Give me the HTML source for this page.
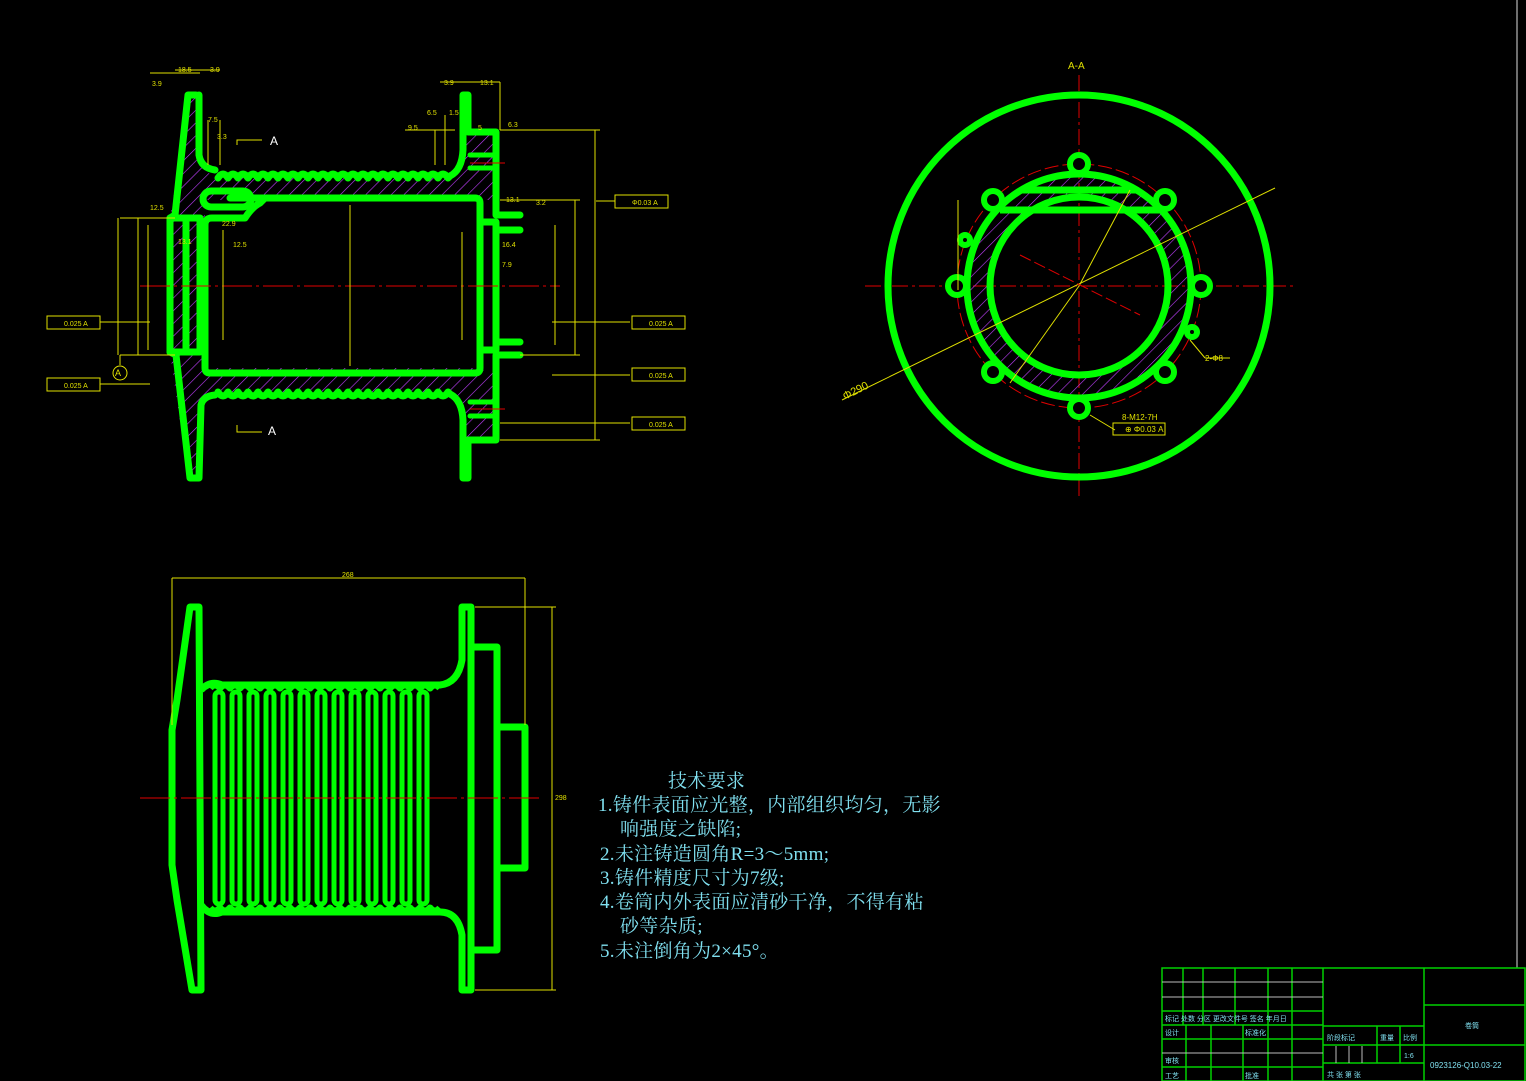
<!DOCTYPE html>
<html><head><meta charset="utf-8"><style>
html,body{margin:0;padding:0;background:#000;}
svg{display:block}
text{font-family:"Liberation Sans",sans-serif}
</style></head><body>
<svg width="1526" height="1081" viewBox="0 0 1526 1081" xmlns="http://www.w3.org/2000/svg">
<defs>
<pattern id="h" width="9" height="9" patternUnits="userSpaceOnUse" patternTransform="rotate(45)">
<line x1="0" y1="0" x2="0" y2="9" stroke="#c040ff" stroke-width="1.2"/>
</pattern>
</defs>
<rect width="1526" height="1081" fill="#000"/>
<line x1="1517" y1="0" x2="1517" y2="968" stroke="#ddd" stroke-width="1"/>

<g>
<path d="M190,95 L198,95 L198,160 Q200,172 215,175 L450,175 Q460,170 462,150 L462,95 L470,95 L470,130 L497,130 L497,200 L478,200 L478,370 L497,370 L497,440 L470,440 L470,478 L462,478 L462,420 Q460,400 450,395 L215,395 Q202,398 200,410 L198,478 L188,478 L170,352 L170,218 Z M205,200 L205,368 L478,368 L478,200 Z" fill="url(#h)" fill-rule="evenodd"/>
<g fill="none" stroke="#00ff00" stroke-width="7" stroke-linejoin="round" stroke-linecap="round">
<path d="M196,95 L188,95 L175,215 L170,218 L170,352 L176,355 L190,478 L199,478 L201,405 Q203,396 215,395"/>
<path d="M199,95 L199,155 Q201,168 215,170"/>
<path d="M218,178 q5,-8 10,0 q5,-8 10,0 q5,-8 10,0 q5,-8 10,0 q5,-8 10,0 q5,-8 10,0 q5,-8 10,0 q5,-8 10,0 q5,-8 10,0 q5,-8 10,0 q5,-8 10,0 q5,-8 10,0 q5,-8 10,0 q5,-8 10,0 q5,-8 10,0 q5,-8 10,0 q5,-8 10,0 q5,-8 10,0 q5,-8 10,0 q5,-8 10,0 q5,-8 10,0 q5,-8 10,0 q5,-8 10,0 L450,176 Q462,170 463,150 L463,95 L468,95 L468,132 L496,132 L496,215 L520,215"/>
<path d="M218,392 q5,8 10,0 q5,8 10,0 q5,8 10,0 q5,8 10,0 q5,8 10,0 q5,8 10,0 q5,8 10,0 q5,8 10,0 q5,8 10,0 q5,8 10,0 q5,8 10,0 q5,8 10,0 q5,8 10,0 q5,8 10,0 q5,8 10,0 q5,8 10,0 q5,8 10,0 q5,8 10,0 q5,8 10,0 q5,8 10,0 q5,8 10,0 q5,8 10,0 q5,8 10,0 L450,394 Q462,400 463,420 L463,478 L468,478 L468,440 L496,440 L496,355 L520,355"/>
<path d="M230,198 L475,198 Q480,198 480,203 L480,368 Q480,373 475,373 L210,373 Q205,373 205,368 L205,225 Q205,218 212,218 L245,218 Q252,207 260,203 L265,198"/>
<path d="M170,218 L200,218 L200,352 L170,352"/>
<path d="M186,222 L186,348"/>
<path d="M480,222 L496,222 L496,350 L480,350"/>
<path d="M496,230 L520,230 M496,342 L520,342"/>
<rect x="203" y="191" width="48" height="16" rx="8"/>
<path d="M470,155 L496,155 M470,168 L496,168 M470,402 L496,402 M470,416 L496,416" stroke-width="5"/>
</g>
<line x1="140" y1="286" x2="560" y2="286" stroke="#e00000" stroke-width="1" stroke-dasharray="30,4,3,4"/>
<line x1="470" y1="163" x2="505" y2="163" stroke="#e00000" stroke-width="1"/>
<line x1="470" y1="409" x2="505" y2="409" stroke="#e00000" stroke-width="1"/>
<g stroke="#e0e000" stroke-width="1" fill="none">
<line x1="350" y1="205" x2="350" y2="366"/>
<line x1="223" y1="230" x2="223" y2="340"/>
<line x1="462" y1="232" x2="462" y2="340"/>
<line x1="148" y1="225" x2="148" y2="350"/><line x1="138" y1="218" x2="138" y2="355"/>
<line x1="120" y1="218" x2="175" y2="218"/><line x1="120" y1="355" x2="175" y2="355"/>
<line x1="118" y1="218" x2="118" y2="355"/>
<line x1="555" y1="225" x2="555" y2="345"/><line x1="575" y1="200" x2="575" y2="355"/><line x1="595" y1="130" x2="595" y2="440"/>
<line x1="500" y1="130" x2="600" y2="130"/><line x1="500" y1="440" x2="600" y2="440"/>
<line x1="500" y1="200" x2="580" y2="200"/><line x1="520" y1="355" x2="580" y2="355"/>
<line x1="150" y1="73" x2="200" y2="73"/><line x1="175" y1="70" x2="220" y2="70"/>
<line x1="440" y1="82" x2="500" y2="82"/><line x1="500" y1="82" x2="500" y2="130"/>
<line x1="405" y1="130" x2="455" y2="130"/><line x1="435" y1="130" x2="435" y2="165"/><line x1="445" y1="115" x2="445" y2="165"/>
<line x1="208" y1="120" x2="208" y2="165"/><line x1="220" y1="120" x2="220" y2="165"/>
<line x1="596" y1="201" x2="615" y2="201"/>
<line x1="552" y1="322" x2="630" y2="322"/><line x1="552" y1="375" x2="630" y2="375"/><line x1="500" y1="423" x2="630" y2="423"/>
<line x1="100" y1="322" x2="150" y2="322"/><line x1="100" y1="384" x2="150" y2="384"/>
<line x1="120" y1="355" x2="120" y2="365"/>
</g>
<g fill="none" stroke="#e0e000" stroke-width="1">
<rect x="47" y="316" width="53" height="13"/><rect x="47" y="378" width="53" height="13"/>
<rect x="632" y="316" width="53" height="13"/><rect x="632" y="368" width="53" height="13"/><rect x="632" y="417" width="53" height="13"/>
<rect x="615" y="195" width="53" height="13"/>
<circle cx="120" cy="373" r="7"/>
<path d="M237,145 L237,140 L262,140 M237,425 L237,432 L262,432"/>
</g>
<g fill="#e0e000" font-size="7">
<text x="64" y="326">0.025 A</text><text x="64" y="388">0.025 A</text>
<text x="649" y="326">0.025 A</text><text x="649" y="378">0.025 A</text><text x="649" y="427">0.025 A</text>
<text x="632" y="205">Φ0.03 A</text>
<text x="152" y="86">3.9</text><text x="178" y="72">18.5</text><text x="210" y="72">3.9</text>
<text x="444" y="85">3.9</text><text x="480" y="85">13.1</text>
<text x="427" y="115">6.5</text><text x="449" y="115">1.5</text><text x="408" y="130">9.5</text><text x="478" y="130">5</text><text x="508" y="127">6.3</text>
<text x="208" y="122">7.5</text><text x="217" y="139">3.3</text><text x="150" y="210">12.5</text><text x="506" y="202">13.1</text><text x="536" y="205">3.2</text>
<text x="178" y="244">13.1</text><text x="502" y="247">16.4</text><text x="502" y="267">7.9</text><text x="222" y="226">22.9</text><text x="233" y="247">12.5</text>
<text x="115" y="376" font-size="9">A</text>
</g>
<g fill="#fff" font-size="12"><text x="270" y="145">A</text><text x="268" y="435">A</text></g>
</g>

<g>
<text x="1068" y="69" fill="#e0e000" font-size="10">A-A</text>
<line x1="865" y1="286" x2="1295" y2="286" stroke="#e00000" stroke-width="1" stroke-dasharray="16,4,3,4"/>
<line x1="1079" y1="75" x2="1079" y2="500" stroke="#e00000" stroke-width="1" stroke-dasharray="16,4,3,4"/>
<circle cx="1079" cy="286" r="122" fill="none" stroke="#e00000" stroke-width="1" stroke-dasharray="14,4"/>
<path d="M1079,174 A112,112 0 1 1 1078.9,174 Z M1079,197 A89,89 0 1 0 1079.1,197 Z" fill="url(#h)" fill-rule="evenodd"/>
<g fill="none" stroke="#00ff00" stroke-width="7">
<circle cx="1079" cy="286" r="191"/>
<circle cx="1079" cy="286" r="112"/>
<circle cx="1079" cy="286" r="89"/>
<path d="M1000,210 L1160,210" />
<path d="M1022,190 L1137,190"/>
</g>
<g fill="#000" stroke="#00ff00" stroke-width="6">
<circle cx="1079" cy="164" r="9"/><circle cx="1165" cy="200" r="9"/><circle cx="1201" cy="286" r="9"/><circle cx="1165" cy="372" r="9"/>
<circle cx="1079" cy="408" r="9"/><circle cx="993" cy="372" r="9"/><circle cx="957" cy="286" r="9"/><circle cx="993" cy="200" r="9"/>
<circle cx="965" cy="240" r="5"/><circle cx="1192" cy="332" r="5"/>
</g>
<g stroke="#e0e000" stroke-width="1" fill="none">
<line x1="842" y1="400" x2="1275" y2="188"/>
<line x1="1079" y1="286" x2="1130" y2="190"/><line x1="1079" y1="286" x2="1010" y2="383"/>
<line x1="1190" y1="340" x2="1205" y2="358"/><line x1="1205" y1="358" x2="1230" y2="358"/>
<line x1="1090" y1="415" x2="1115" y2="430"/>
<rect x="1113" y="423" width="52" height="12"/>
<line x1="958" y1="200" x2="958" y2="290"/>
</g>
<line x1="1020" y1="255" x2="1140" y2="315" stroke="#e00000" stroke-width="1" stroke-dasharray="12,4"/>
<g fill="#e0e000" font-size="8">
<text x="1205" y="361">2-Φ8</text><text x="1122" y="420">8-M12-7H</text><text x="1125" y="432">⊕ Φ0.03 A</text>
<text x="845" y="400" font-size="11" transform="rotate(-27 845 400)">Φ290</text>
</g>
</g>

<g fill="none" stroke="#00ff00" stroke-width="7" stroke-linejoin="round">
<path d="M190,607 L199,607 L201,990 L192,990 L177,900 L172,865 L172,730 L177,700 Z"/>
<path d="M201,690 Q210,680 222,685 L440,685 Q458,683 462,660 L462,607 L471,607 L471,990 L462,990 L462,935 Q458,912 440,912 L222,912 Q210,917 201,905"/>
<path d="M471,647 L497,647 L497,950 L471,950"/>
<path d="M497,727 L525,727 L525,868 L497,868"/>
<path d="M172,730 L172,865"/>
<path d="M210,688 q5,-6 10,0 q5,-6 10,0 q5,-6 10,0 q5,-6 10,0 q5,-6 10,0 q5,-6 10,0 q5,-6 10,0 q5,-6 10,0 q5,-6 10,0 q5,-6 10,0 q5,-6 10,0 q5,-6 10,0 q5,-6 10,0 q5,-6 10,0 q5,-6 10,0 q5,-6 10,0 q5,-6 10,0 q5,-6 10,0 q5,-6 10,0 q5,-6 10,0 q5,-6 10,0 q5,-6 10,0 q5,-6 10,0"/>
<path d="M210,908 q5,6 10,0 q5,6 10,0 q5,6 10,0 q5,6 10,0 q5,6 10,0 q5,6 10,0 q5,6 10,0 q5,6 10,0 q5,6 10,0 q5,6 10,0 q5,6 10,0 q5,6 10,0 q5,6 10,0 q5,6 10,0 q5,6 10,0 q5,6 10,0 q5,6 10,0 q5,6 10,0 q5,6 10,0 q5,6 10,0 q5,6 10,0 q5,6 10,0 q5,6 10,0"/>
<g stroke-width="5">
<rect x="215" y="692" width="8" height="212" rx="4"/><rect x="232" y="692" width="8" height="212" rx="4"/><rect x="249" y="692" width="8" height="212" rx="4"/><rect x="266" y="692" width="8" height="212" rx="4"/><rect x="283" y="692" width="8" height="212" rx="4"/><rect x="300" y="692" width="8" height="212" rx="4"/><rect x="317" y="692" width="8" height="212" rx="4"/><rect x="334" y="692" width="8" height="212" rx="4"/><rect x="351" y="692" width="8" height="212" rx="4"/><rect x="368" y="692" width="8" height="212" rx="4"/><rect x="385" y="692" width="8" height="212" rx="4"/><rect x="402" y="692" width="8" height="212" rx="4"/><rect x="419" y="692" width="8" height="212" rx="4"/>
</g>
</g>
<line x1="140" y1="798" x2="540" y2="798" stroke="#e00000" stroke-width="1" stroke-dasharray="30,4,3,4"/>
<g stroke="#e0e000" stroke-width="1" fill="none">
<line x1="172" y1="578" x2="525" y2="578"/><line x1="172" y1="578" x2="172" y2="725"/><line x1="525" y1="578" x2="525" y2="725"/>
<line x1="552" y1="607" x2="552" y2="990"/><line x1="475" y1="607" x2="556" y2="607"/><line x1="475" y1="990" x2="556" y2="990"/>
</g>
<text x="342" y="577" fill="#e0e000" font-size="7">268</text>
<text x="555" y="800" fill="#e0e000" font-size="7">298</text>

<g fill="#80e0f0" font-size="19" letter-spacing="0.3">
<text x="668" y="787" style="font-family:'Liberation Serif','Noto Serif CJK SC',serif">技术要求</text>
<text x="598" y="811" style="font-family:'Liberation Serif','Noto Serif CJK SC',serif">1.铸件表面应光整，内部组织均匀，无影</text>
<text x="620" y="835" style="font-family:'Liberation Serif','Noto Serif CJK SC',serif">响强度之缺陷;</text>
<text x="600" y="860" style="font-family:'Liberation Serif','Noto Serif CJK SC',serif">2.未注铸造圆角R=3～5mm;</text>
<text x="600" y="884" style="font-family:'Liberation Serif','Noto Serif CJK SC',serif">3.铸件精度尺寸为7级;</text>
<text x="600" y="908" style="font-family:'Liberation Serif','Noto Serif CJK SC',serif">4.卷筒内外表面应清砂干净，不得有粘</text>
<text x="620" y="932" style="font-family:'Liberation Serif','Noto Serif CJK SC',serif">砂等杂质;</text>
<text x="600" y="957" style="font-family:'Liberation Serif','Noto Serif CJK SC',serif">5.未注倒角为2×45°。</text>
</g>

<g stroke="#00d000" stroke-width="1.5" fill="none">
<rect x="1162" y="968" width="363" height="113"/>
<line x1="1323" y1="968" x2="1323" y2="1081"/><line x1="1424" y1="968" x2="1424" y2="1081"/>
<line x1="1424" y1="1005" x2="1525" y2="1005"/><line x1="1424" y1="1045" x2="1525" y2="1045"/>
<line x1="1162" y1="1011" x2="1323" y2="1011"/><line x1="1162" y1="1025" x2="1323" y2="1025"/><line x1="1162" y1="1039" x2="1323" y2="1039"/><line x1="1162" y1="1067" x2="1323" y2="1067"/>
<line x1="1323" y1="1026" x2="1424" y2="1026"/><line x1="1323" y1="1045" x2="1424" y2="1045"/><line x1="1323" y1="1063" x2="1424" y2="1063"/>
<line x1="1183" y1="968" x2="1183" y2="1025"/><line x1="1203" y1="968" x2="1203" y2="1025"/><line x1="1235" y1="968" x2="1235" y2="1025"/><line x1="1268" y1="968" x2="1268" y2="1025"/><line x1="1292" y1="968" x2="1292" y2="1025"/>
<line x1="1186" y1="1025" x2="1186" y2="1081"/><line x1="1211" y1="1025" x2="1211" y2="1081"/><line x1="1243" y1="1025" x2="1243" y2="1081"/><line x1="1268" y1="1025" x2="1268" y2="1081"/><line x1="1292" y1="1025" x2="1292" y2="1081"/>
<line x1="1377" y1="1026" x2="1377" y2="1063"/><line x1="1400" y1="1026" x2="1400" y2="1063"/>
</g>
<g stroke="#bbb" stroke-width="1"><line x1="1162" y1="982" x2="1323" y2="982"/><line x1="1162" y1="997" x2="1323" y2="997"/><line x1="1162" y1="1053" x2="1323" y2="1053"/>
<line x1="1336" y1="1046" x2="1336" y2="1063"/><line x1="1349" y1="1046" x2="1349" y2="1063"/><line x1="1362" y1="1046" x2="1362" y2="1063"/></g>
<g fill="#80e0f0" font-size="7" style="font-family:'Liberation Sans','Noto Sans CJK SC',sans-serif">
<text x="1465" y="1028">卷筒</text>
<text x="1430" y="1068" font-size="8">0923126-Q10.03-22</text>
<text x="1404" y="1058">1:6</text>
<text x="1165" y="1021">标记 处数 分区 更改文件号 签名 年月日</text>
<text x="1165" y="1035">设计</text><text x="1245" y="1035">标准化</text>
<text x="1327" y="1040">阶段标记</text><text x="1380" y="1040">重量</text><text x="1403" y="1040">比例</text>
<text x="1165" y="1063">审核</text><text x="1165" y="1078">工艺</text><text x="1245" y="1078">批准</text>
<text x="1327" y="1077">共 张 第 张</text>
</g>
</svg>
</body></html>
